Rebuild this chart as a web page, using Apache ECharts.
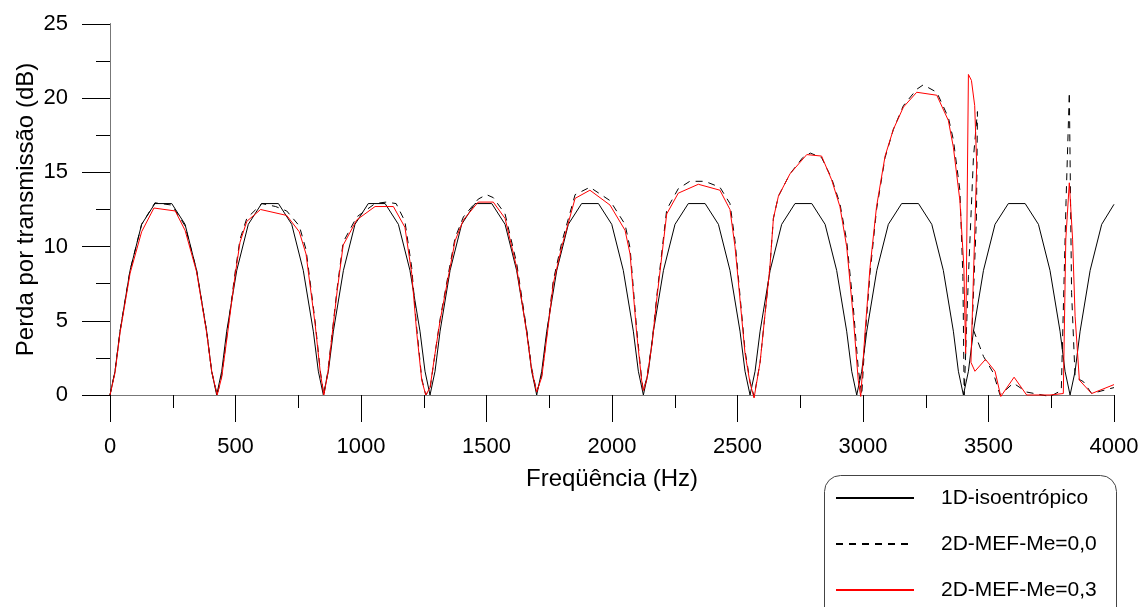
<!DOCTYPE html>
<html>
<head>
<meta charset="utf-8">
<script src="https://cdn.jsdelivr.net/npm/echarts@6/dist/echarts.min.js"></script>
<style>
html,body{margin:0;padding:0;background:#fff;}
#chart{width:1144px;height:607px;}
</style>
</head>
<body>
<div id="chart"></div>
<script>
// ---- data ----
const seriesNames = ['1D-isoentrópico', '2D-MEF-Me=0,0', '2D-MEF-Me=0,3'];
const xTicks = [0, 500, 1000, 1500, 2000, 2500, 3000, 3500, 4000];
const yTicks = [0, 5, 10, 15, 20, 25];

const freq1D = [0,20,40,80,126,179,246,299,345,385,405,
  425,445,465,505,551,604,671,724,770,810,830,
  850,870,890,930,976,1029,1096,1149,1195,1235,1255,
  1275,1295,1315,1355,1401,1454,1521,1574,1620,1660,1680,
  1700,1720,1740,1780,1826,1879,1946,1999,2045,2085,2105,
  2125,2145,2165,2205,2251,2304,2371,2424,2470,2510,2530,
  2550,2570,2590,2630,2676,2729,2796,2849,2895,2935,2955,
  2975,2995,3015,3055,3101,3154,3221,3274,3320,3360,3380,
  3400,3420,3440,3480,3526,3579,3646,3699,3745,3785,3805,
  3825,3845,3865,3905,3951,4000];
const tl1D = [0,1.6,4.3,8.4,11.5,12.9,12.9,11.5,8.4,4.3,1.6,
  0,1.6,4.3,8.4,11.5,12.9,12.9,11.5,8.4,4.3,1.6,
  0,1.6,4.3,8.4,11.5,12.9,12.9,11.5,8.4,4.3,1.6,
  0,1.6,4.3,8.4,11.5,12.9,12.9,11.5,8.4,4.3,1.6,
  0,1.6,4.3,8.4,11.5,12.9,12.9,11.5,8.4,4.3,1.6,
  0,1.6,4.3,8.4,11.5,12.9,12.9,11.5,8.4,4.3,1.6,
  0,1.6,4.3,8.4,11.5,12.9,12.9,11.5,8.4,4.3,1.6,
  0,1.6,4.3,8.4,11.5,12.9,12.9,11.5,8.4,4.3,1.6,
  0,1.6,4.3,8.4,11.5,12.9,12.9,11.5,8.4,4.3,1.6,
  0,1.6,4.3,8.4,11.5,12.85];

const freqMe00 = [0,20,40,80,126,179,246,299,345,385,405,427,
  445,465,498,518,545,605,660,704,754,781,817,838,852,
  868,888,905,929,983,1056,1100,1140,1175,1202,1222,1242,1258,
  1275,1295,1315,1355,1375,1408,1467,1500,1527,1574,1620,1660,1680,1700,
  1720,1745,1766,1800,1853,1912,1992,2052,2072,2098,2118,2125,
  2138,2160,2178,2218,2264,2310,2370,2430,2470,2490,2503,2530,2550,2566,
  2590,2610,2629,2643,2663,2709,2760,2790,2835,2875,2908,2935,2961,2981,2995,
  3008,3028,3054,3088,3121,3161,3214,3240,3294,3340,3360,3386,3398,3403,
  3420,3440,3456,3452,3435,3480,3519,3546,3599,3652,3745,3790,
  3809,3822,3831,3845,3878,3911,4000];
const tlMe00 = [0,1.6,4.3,8.4,11.5,12.95,12.8,11.4,8.4,4.3,1.6,0,
  1.3,3.9,8.2,10.5,11.9,12.9,12.7,12.4,11.4,9.8,5.0,1.6,0,
  1.6,4.6,7.2,10.3,12.0,12.9,13.0,12.9,11.7,8.6,4.5,1.1,0,
  0.4,2.8,5.1,8.8,10.6,12.0,13.2,13.5,13.3,12.2,8.9,4.4,1.8,0.2,
  1.3,4.7,7.7,10.3,13.5,14.0,13.1,11.5,9.9,4.5,1.1,0.3,
  1.1,3.6,6.6,12.5,13.9,14.4,14.4,14.0,12.9,10.4,8.0,3.0,0.9,-0.1,
  2.2,5.5,8.6,11.9,13.4,14.9,16.0,16.3,16.0,14.6,12.9,10.4,6.0,1.8,0,
  3.8,8.2,12.5,16.0,17.9,19.5,20.6,20.9,20.4,18.7,17.2,13.8,8.0,0,
  8.0,16.0,19.1,12.0,4.6,2.6,1.5,0,0.8,0.2,-0.1,0.3,
  13.1,20.4,6.9,1.2,0.9,0.1,0.5];

const freqMe03 = [0,20,40,80,126,175,260,299,345,385,405,427,
  445,465,498,518,545,600,704,754,781,817,838,852,
  868,888,905,929,983,1056,1129,1175,1202,1222,1242,1258,
  1275,1295,1315,1355,1375,1408,1467,1527,1574,1620,1660,1680,1700,
  1720,1745,1766,1800,1853,1912,1992,2052,2072,2098,2118,2125,
  2138,2160,2178,2218,2264,2344,2430,2470,2490,2503,2530,2550,2566,
  2590,2610,2629,2643,2663,2709,2776,2835,2875,2908,2935,2961,2981,2991,
  3008,3028,3054,3088,3121,3161,3214,3294,3340,3360,3386,3402,3409,
  3420,3432,3445,3453,3430,3446,3488,3526,3549,3602,3652,3745,3798,
  3808,3822,3835,3845,3862,3911,4000];
const tlMe03 = [0,1.5,4.2,8.2,11.0,12.6,12.4,11.1,8.3,4.2,1.6,0,
  1.2,3.7,8.0,10.3,11.7,12.5,12.1,11.0,9.5,4.8,1.5,0,
  1.5,4.5,7.0,10.1,11.8,12.7,12.7,11.3,8.2,4.2,1.0,0,
  0.5,2.8,5.0,8.6,10.4,11.8,13.0,13.0,11.9,8.6,4.2,1.7,0.2,
  1.2,4.5,7.5,10.0,13.25,13.8,12.8,11.1,9.5,4.2,1.0,0.3,
  1.0,3.5,6.4,12.2,13.6,14.2,13.8,12.5,10.0,7.7,2.8,0.8,-0.2,
  2.2,5.5,8.6,11.9,13.4,14.9,16.2,16.1,14.5,12.7,10.0,5.3,1.0,-0.1,
  4.2,8.6,12.7,16.1,17.9,19.4,20.4,20.2,18.5,16.7,13.1,8.6,2.8,
  21.6,21.2,19.5,15.5,2.2,1.6,2.4,1.6,-0.1,1.2,0,0,0.1,
  10.5,14.3,10.5,5.3,1.0,0.1,0.7];

const zip = (xs, ys) => xs.map((x, i) => [x, ys[i]]);

const FONT = '"Liberation Sans", Arial, sans-serif';
const chart = echarts.init(document.getElementById('chart'), null, {renderer: 'canvas'});
chart.setOption({
  animation: false,
  backgroundColor: '#fff',
  textStyle: {fontFamily: FONT, color: '#000'},
  grid: {left: 110, right: 30, top: 24, bottom: 212, containLabel: false},
  graphic: [{
    type: 'rect', silent: true, z: 0,
    shape: {x: 824.5, y: 475.5, width: 292, height: 200, r: 16},
    style: {fill: 'none', stroke: '#444', lineWidth: 1}
  }],
  legend: {
    orient: 'vertical',
    left: 824, top: 475,
    padding: [12, 0, 0, 11],
    itemGap: 24,
    itemWidth: 78,
    itemHeight: 14,
    itemStyle: {opacity: 0},
    textStyle: {fontSize: 21, lineHeight: 22, color: '#000', fontFamily: FONT, padding: [0, 0, 0, 22]},
    data: seriesNames
  },
  xAxis: [{
    type: 'value', min: 0, max: 4000, interval: 500,
    name: 'Freqüência (Hz)', nameLocation: 'middle', nameGap: 72, nameMoveOverlap: false,
    nameTextStyle: {fontSize: 24, color: '#000', fontFamily: FONT},
    axisLine: {onZero: false, lineStyle: {color: '#000', width: 1}},
    axisTick: {show: true, length: 27, lineStyle: {color: '#000'}},
    minorTick: {show: true, splitNumber: 2, length: 13, lineStyle: {color: '#000'}},
    axisLabel: {fontSize: 22, color: '#000', margin: 41, fontFamily: FONT,
      formatter: v => xTicks.includes(v) ? String(v) : ''},
    splitLine: {show: false}
  }, {
    type: 'value', min: 0, max: 4000, position: 'top',
    axisLine: {show: true, lineStyle: {color: '#777', width: 1}},
    axisTick: {show: false}, axisLabel: {show: false}, splitLine: {show: false}
  }],
  yAxis: [{
    type: 'value', min: 0, max: 25, interval: 5,
    name: 'Perda por transmissão (dB)', nameLocation: 'middle', nameGap: 72, nameMoveOverlap: false,
    nameTextStyle: {fontSize: 24, color: '#000', fontFamily: FONT},
    axisLine: {show: true, onZero: false, lineStyle: {color: '#000', width: 1}},
    axisTick: {show: true, length: 28, lineStyle: {color: '#000'}},
    minorTick: {show: true, splitNumber: 2, length: 14, lineStyle: {color: '#000'}},
    axisLabel: {fontSize: 22, color: '#000', margin: 42, fontFamily: FONT,
      formatter: v => yTicks.includes(v) ? String(v) : ''},
    splitLine: {show: false}
  }, {
    type: 'value', min: 0, max: 25, position: 'right',
    axisLine: {show: true, lineStyle: {color: '#777', width: 1}},
    axisTick: {show: false}, axisLabel: {show: false}, splitLine: {show: false}
  }],
  series: [{
    name: seriesNames[0], type: 'line', symbol: 'none', clip: false,
    lineStyle: {color: '#000', width: 1},
    itemStyle: {color: '#000'},
    data: zip(freq1D, tl1D)
  }, {
    name: seriesNames[1], type: 'line', symbol: 'none', clip: false,
    lineStyle: {color: '#000', width: 1, type: [7, 6]},
    itemStyle: {color: '#000'},
    data: zip(freqMe00, tlMe00)
  }, {
    name: seriesNames[2], type: 'line', symbol: 'none', clip: false,
    lineStyle: {color: '#ff0000', width: 1},
    itemStyle: {color: '#ff0000'},
    data: zip(freqMe03, tlMe03)
  }]
});
</script>
</body>
</html>
